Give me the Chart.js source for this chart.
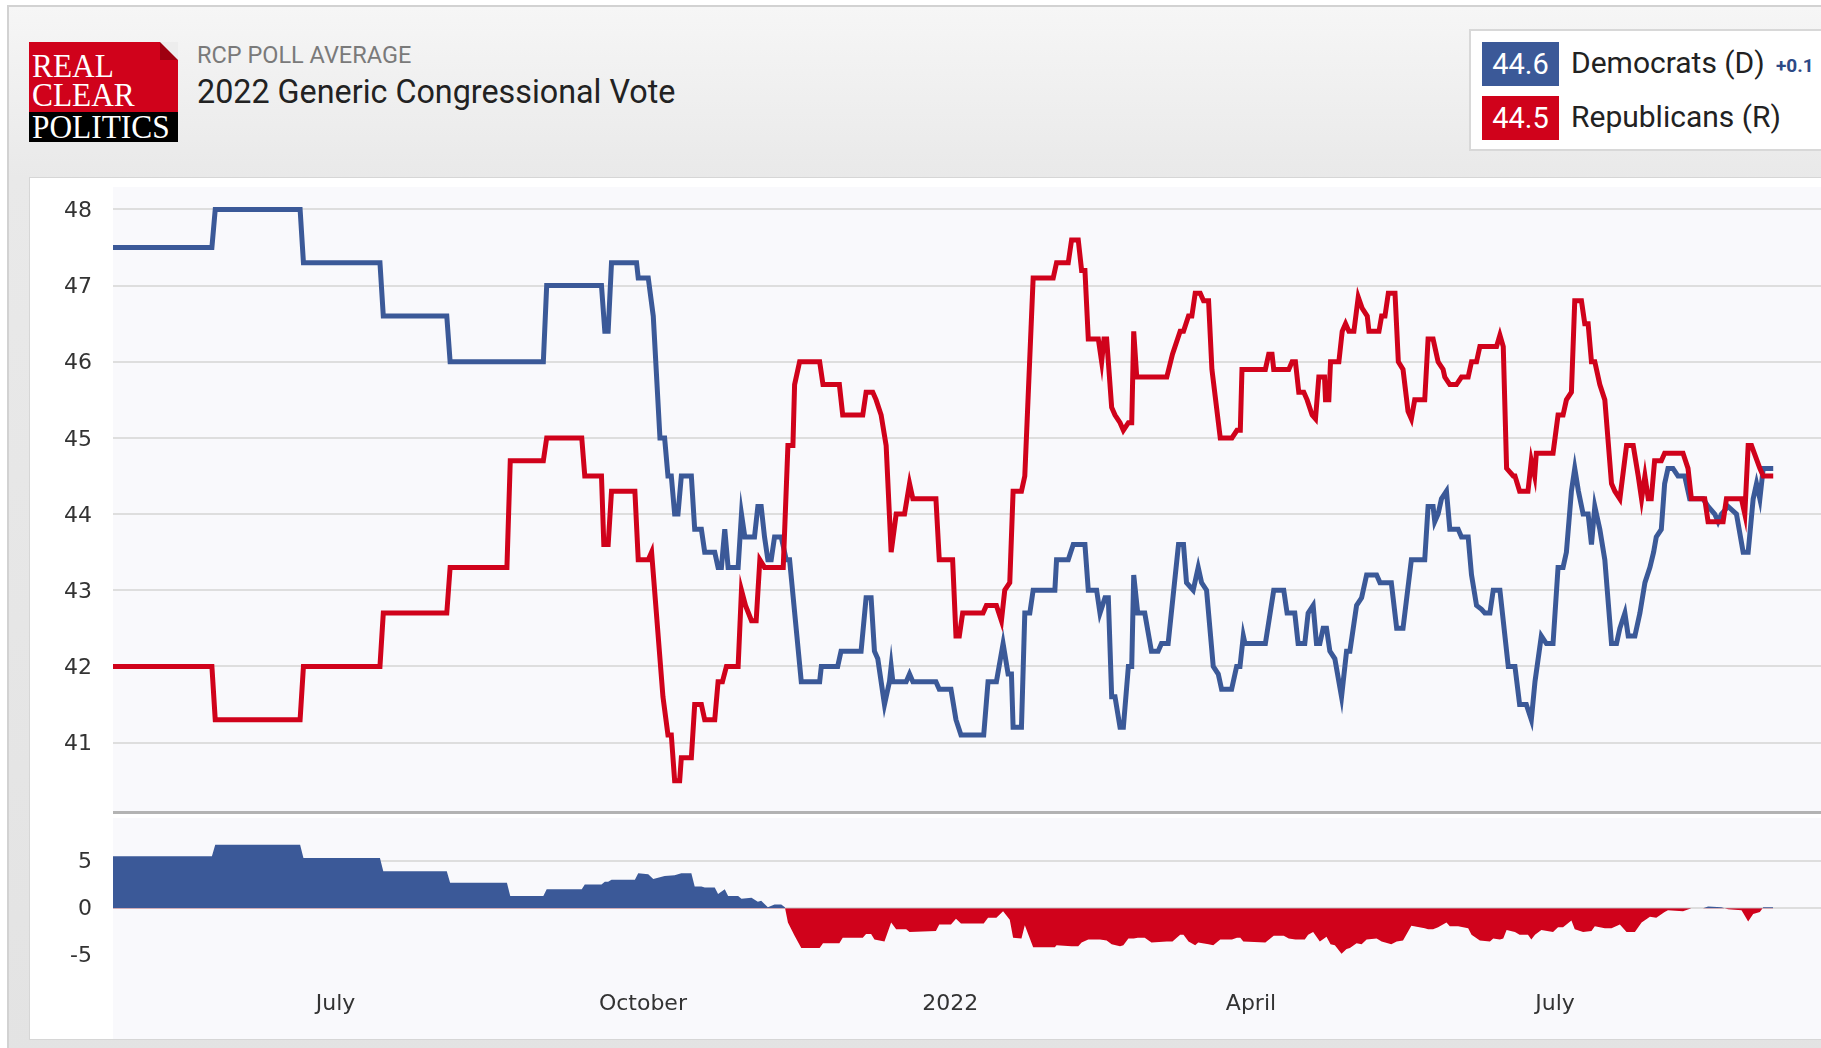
<!DOCTYPE html>
<html>
<head>
<meta charset="utf-8">
<script src="https://cdn.jsdelivr.net/npm/chart.js@4/dist/chart.umd.min.js"></script>
<style>
  html, body { margin: 0; padding: 0; width: 1821px; height: 1048px; overflow: hidden; background: #ffffff; }
  .frame { position: absolute; left: 7px; top: 5px; width: 1840px; height: 1060px; border: 2px solid #d2d2d2;
           background: linear-gradient(#f6f6f6 0px, #e9e9e9 170px, #e3e3e3 1060px); box-sizing: border-box; }
  .logo { position: absolute; left: 29px; top: 42px; width: 149px; height: 100px; overflow: hidden; }
  .logo .red { position: absolute; left: 0; top: 0; width: 149px; height: 70px; background: #d0021b; }
  .logo .black { position: absolute; left: 0; top: 70px; width: 149px; height: 30px; background: #000; }
  .logo .fold { position: absolute; right: 0; top: 0; width: 0; height: 0; border-style: solid;
                border-width: 0 18px 18px 0; border-color: transparent #ededed #9e0010 transparent; }
  .logo .t { position: absolute; left: 3px; color: #fff; font-family: "Liberation Serif", "DejaVu Serif", serif;
             font-size: 33px; line-height: 30px; white-space: nowrap; transform-origin: 0 50%; transform: scale(0.95, 1.05); }
  .sub { position: absolute; left: 197px; top: 41px; font-family: Roboto, sans-serif; font-size: 23.5px; color: #7a7a7a; white-space: nowrap; }
  .title { position: absolute; left: 197px; top: 73px; font-family: Roboto, sans-serif; font-size: 32.3px; color: #222; white-space: nowrap; }
  .legend { position: absolute; left: 1469px; top: 29px; width: 420px; height: 122px; background: #fff;
            border: 2px solid #d8d8d8; box-sizing: border-box; }
  .box { position: absolute; left: 11px; width: 77px; height: 44px; color: #fff; font-family: Roboto, sans-serif;
         font-size: 29px; line-height: 44px; text-align: center; }
  .lab { position: absolute; left: 100px; font-family: Roboto, sans-serif; font-size: 30px; color: #222; white-space: nowrap; }
  .chg { position: absolute; left: 305px; top: 23px; font-family: Roboto, sans-serif; font-size: 19px; font-weight: bold; color: #2d4a86; }
  .panel { position: absolute; left: 29px; top: 177px; width: 1820px; height: 863px; background: #fff;
           border: 1px solid #d6d6d6; box-sizing: border-box; }
  .divider { position: absolute; left: 113px; top: 811px; width: 1720px; height: 3px; background: #b3b3b3; }
  canvas { position: absolute; }
</style>
</head>
<body>
<div class="frame"></div>
<div class="logo">
  <div class="red"></div>
  <div class="black"></div>
  <div class="fold"></div>
  <div class="t" style="top:8px">REAL</div>
  <div class="t" style="top:37px">CLEAR</div>
  <div class="t" style="top:69px">POLITICS</div>
</div>
<div class="sub">RCP POLL AVERAGE</div>
<div class="title">2022 Generic Congressional Vote</div>
<div class="legend">
  <div class="box" id="demBox" style="top:11px;background:#3b5998"></div>
  <div class="lab" id="demLab" style="top:14px"></div>
  <div class="chg" id="demChg"></div>
  <div class="box" id="repBox" style="top:65px;background:#d0021b"></div>
  <div class="lab" id="repLab" style="top:68px"></div>
</div>
<div class="panel"></div>
<canvas id="mainChart" width="1792" height="626" style="left:29px;top:187px;"></canvas>
<div class="divider"></div>
<canvas id="spreadChart" width="1792" height="226" style="left:29px;top:813px;"></canvas>
<script>
// ---- Data (x = day number counted from 1 Jan 2021) ----
const seriesNames = ['Democrats (D)', 'Republicans (R)'];
const latestValues = [44.6, 44.5];
const latestChange = '+0.1';

const demDays = [114.4,144,145,170.4,171.4,194.3,195.3,214.3,215.3,243.2,244.2,260.6,261.6,262.6,263.6,271.1,271.6,274.6,276.1,278.1,279.5,280.5,281.5,282.5,283.5,284.5,287.5,288.5,290.5,291.5,294.5,295.5,296.5,297.5,298.5,301.5,302.5,303.5,306.4,307.4,308.4,309.4,310.4,311.4,312.4,314.4,315.9,316.9,320.4,325.9,326.4,331.3,332.3,338.3,339.8,341.3,342.3,343.3,345.3,346.8,347.3,347.8,351.8,352.8,353.8,360.7,361.7,365.2,366.7,368.2,375.0,376.3,378.8,380.8,382.3,383.3,383.8,386.3,387.3,388.8,389.8,396.3,396.8,400.3,401.8,405.3,406.3,408.8,409.8,411.3,412.3,413.3,414.3,415.8,416.8,418.3,419.3,419.9,421.1,423.2,425.2,427.2,428.2,430.2,433.3,434.8,435.7,437.7,439.2,440.2,441.7,443.7,445.2,446.2,449.2,450.7,451.7,452.7,453.2,459.3,461.8,464.8,465.8,468.1,469.1,471.1,472.1,473.6,474.6,475.6,476.6,477.6,478.6,480.1,482.1,483.6,484.6,486.6,488.1,489.6,492.6,493.6,497.0,498.6,500.5,503.0,507.0,508.0,509.5,510.0,511.0,512.0,513.5,514.5,517.0,518.0,520.0,521.0,522.5,524.0,525.0,526.5,527.5,529.5,532.0,534.0,535.4,537.4,538.9,540.0,541.9,543.4,545.4,546.9,548.4,549.4,550.9,551.9,553.0,554.4,555.9,556.9,557.9,559.4,560.9,562.9,564.4,565.4,566.9,567.9,569.9,571.4,572.9,574.4,575.5,576.3,577.8,578.8,579.8,581.3,582.8,584.8,586.3,590.3,591.8,593.8,594.8,595.8,597.8,600.3,602.3,603.8,605.3,606.3,607.3,608.3,611.3];
const demVals = [47.5,47.5,48.0,48.0,47.3,47.3,46.6,46.6,46.0,46.0,47.0,47.0,46.4,46.4,47.3,47.3,47.1,47.1,46.6,45.0,45.0,44.5,44.5,44.0,44.0,44.5,44.5,43.8,43.8,43.5,43.5,43.3,43.3,43.8,43.3,43.3,44.0,43.7,43.7,44.1,44.1,43.7,43.4,43.4,43.7,43.7,43.4,43.4,41.8,41.8,42.0,42.0,42.2,42.2,42.9,42.9,42.2,42.1,41.5,41.8,42.0,41.8,41.8,41.9,41.8,41.8,41.7,41.7,41.3,41.1,41.1,41.8,41.8,42.3,41.9,41.9,41.2,41.2,42.7,42.7,43.0,43.0,43.4,43.4,43.6,43.6,43.0,43.0,42.7,42.9,42.9,41.6,41.6,41.2,41.2,42.0,42.0,43.2,42.7,42.7,42.2,42.2,42.3,42.3,43.6,43.6,43.1,43.0,43.3,43.1,43.0,42.0,41.9,41.7,41.7,42.0,42.0,42.4,42.3,42.3,43.0,43.0,42.7,42.7,42.3,42.3,42.7,42.8,42.3,42.3,42.5,42.5,42.2,42.1,41.6,42.2,42.2,42.8,42.9,43.2,43.2,43.1,43.1,42.5,42.5,43.4,43.4,44.1,44.1,43.9,44.0,44.2,44.3,43.8,43.8,43.7,43.7,43.2,42.8,42.75,42.7,42.7,43.0,43.0,42.0,42.0,41.5,41.5,41.3,41.8,42.4,42.3,42.3,43.3,43.3,43.5,44.3,44.6,44.3,44.0,44.0,43.6,44.1,43.8,43.4,42.3,42.3,42.5,42.7,42.4,42.4,42.7,43.1,43.3,43.5,43.7,43.8,44.4,44.6,44.6,44.5,44.5,44.2,44.2,44.1,44.0,43.9,44.0,44.1,44.0,43.5,43.5,44.2,44.4,44.2,44.6,44.6];

const repDays = [114.4,144,145,170.4,171.4,194.3,195.3,214.3,215.3,232.3,233.3,243.2,244.2,254.7,255.6,260.6,261.3,262.6,263.6,270.6,271.6,274.6,275.6,279.0,280.5,281.5,282.5,284.0,284.5,287.5,288.5,290.5,291.5,294.5,295.5,296.8,298.0,301.5,302.5,303.7,305.5,306.9,308.0,309.4,315.0,316.4,317.9,318.4,319.9,325.9,326.9,331.8,332.8,338.8,339.8,341.8,342.8,344.3,345.8,347.3,348.8,351.3,352.8,353.8,360.7,361.7,365.7,366.7,367.7,368.7,374.8,375.8,378.8,380.3,381.3,382.8,383.8,386.3,387.3,389.8,395.8,396.8,400.3,401.3,403.3,404.3,405.3,406.3,409.3,410.3,411.0,411.8,413.3,414.3,415.8,416.8,418.3,419.3,419.9,420.8,429.8,431.5,433.8,434.8,436.3,437.3,438.3,439.8,440.8,442.3,443.3,445.8,449.3,450.8,451.8,452.3,459.3,460.3,461.3,461.8,466.3,467.3,468.3,469.3,470.8,471.8,473.3,474.3,475.3,477.0,477.3,478.3,478.8,481.3,482.3,483.3,484.3,485.8,487.1,488.3,489.8,490.3,493.3,494.1,495.1,496.1,498.1,499.1,500.5,502.0,503.0,504.0,507.0,508.0,509.5,511.0,512.5,513.0,514.5,516.5,518.0,520.0,521.0,522.5,523.5,528.5,529.5,530.5,531.5,533.5,534.0,535.4,537.9,538.9,539.9,540.4,545.4,546.9,548.4,549.4,550.9,551.9,553.9,554.9,555.9,556.9,557.9,559.4,560.9,562.9,563.9,565.4,567.4,569.4,570.9,571.9,572.9,573.9,574.8,575.8,577.8,578.8,584.3,585.8,586.8,590.8,591.8,596.3,597.3,601.8,602.8,603.8,604.8,607.3,608.3,611.3];
const repVals = [42.0,42.0,41.3,41.3,42.0,42.0,42.7,42.7,43.3,43.3,44.7,44.7,45.0,45.0,44.5,44.5,43.6,43.6,44.3,44.3,43.4,43.4,43.5,41.6,41.1,41.1,40.5,40.5,40.8,40.8,41.5,41.5,41.3,41.3,41.8,41.8,42.0,42.0,43.0,42.8,42.6,42.6,43.4,43.3,43.3,44.9,44.9,45.7,46.0,46.0,45.7,45.7,45.3,45.3,45.6,45.6,45.5,45.3,44.9,43.5,44.0,44.0,44.4,44.2,44.2,43.4,43.4,42.4,42.4,42.7,42.7,42.8,42.8,42.6,43.0,43.1,44.3,44.3,44.5,47.1,47.1,47.3,47.3,47.6,47.6,47.2,47.2,46.3,46.3,46.0,46.3,46.3,45.4,45.3,45.2,45.1,45.2,45.2,46.4,45.8,45.8,46.1,46.4,46.4,46.6,46.6,46.9,46.9,46.8,46.8,45.9,45.0,45.0,45.1,45.1,45.9,45.9,46.1,46.1,45.9,45.9,46.0,46.0,45.6,45.6,45.5,45.3,45.25,45.8,45.8,45.5,45.5,46.0,46.0,46.4,46.5,46.4,46.4,46.85,46.7,46.6,46.4,46.4,46.6,46.6,46.9,46.9,46.0,45.9,45.35,45.25,45.5,45.5,46.3,46.3,46.0,45.9,45.8,45.7,45.7,45.8,45.8,46.0,46.0,46.2,46.2,46.35,46.2,44.6,44.5,44.5,44.3,44.3,44.7,44.5,44.8,44.8,45.3,45.3,45.5,45.6,46.8,46.8,46.5,46.5,46.0,46.0,45.7,45.5,44.4,44.3,44.2,44.9,44.9,44.5,44.2,44.5,44.2,44.2,44.7,44.7,44.8,44.8,44.6,44.2,44.2,43.9,43.9,44.2,44.2,44.0,44.9,44.9,44.6,44.5,44.5];

const spreadDays = [114.4,144,145,170.4,171.4,194.3,195.3,214.3,215.3,232.3,233.3,243.2,244.2,254.7,255.6,260.6,261.6,262.6,263.6,270.6,271.6,274.6,276.1,279.5,282.5,284.5,287.5,288.5,290.5,291.5,294.5,295.5,297.5,298.5,301.5,302.5,305.5,307.4,308.4,310.4,312.4,314.4,315.5,316.4,318.4,320.4,325.9,326.9,331.8,332.8,338.8,339.8,341.3,342.3,345.3,347.3,348.8,351.8,352.8,360.7,361.7,365.2,366.7,368.2,375.0,376.3,378.8,380.8,382.8,383.8,386.3,387.3,389.8,396.3,396.8,401.3,403.3,404.3,406.3,409.8,411.8,413.3,415.8,416.8,418.3,419.9,421.1,423.2,425.2,429.8,431.5,433.8,434.8,436.3,438.3,439.2,442.3,443.7,445.8,449.3,450.8,451.8,452.7,459.3,461.8,464.8,466.3,468.3,469.3,471.1,472.1,473.6,474.6,475.6,477.6,478.8,480.1,482.1,483.6,484.6,486.6,488.1,489.6,492.6,494.1,497.0,498.6,500.5,503.0,507.0,508.0,509.5,511.0,513.5,514.5,517.0,520.0,521.0,523.5,526.5,527.5,529.5,530.5,531.5,534.0,535.4,537.9,538.9,540.0,541.9,545.4,546.9,548.4,550.9,551.9,554.4,556.9,557.9,560.9,562.9,565.4,567.4,569.9,571.9,574.4,576.3,578.8,579.8,584.3,586.8,590.3,591.8,595.8,597.8,601.8,602.3,603.8,605.3,607.3,608.3,611.3];
const spreadVals = [5.5,5.5,6.7,6.7,5.3,5.3,3.9,3.9,2.7,2.7,1.3,1.3,2.0,2.0,2.5,2.5,2.8,2.8,3.0,3.0,3.7,3.6,3.1,3.4,3.5,3.7,3.7,2.3,2.3,2.2,2.2,1.5,2.0,1.3,1.3,1.0,1.1,0.7,0.8,0.1,0.4,0.4,0.1,-1.5,-2.9,-4.2,-4.2,-3.7,-3.7,-3.1,-3.1,-2.7,-2.7,-3.3,-3.5,-1.5,-2.2,-2.2,-2.5,-2.4,-1.7,-1.7,-1.1,-1.6,-1.6,-1.0,-1.0,-0.3,-1.2,-3.1,-3.2,-1.8,-4.1,-4.1,-3.9,-4.0,-4.0,-3.6,-3.3,-3.3,-3.4,-3.8,-4.0,-3.9,-3.2,-3.2,-3.1,-3.1,-3.6,-3.5,-3.5,-2.8,-2.8,-3.5,-3.9,-3.6,-3.8,-3.9,-3.3,-3.3,-3.1,-3.1,-3.5,-3.6,-2.9,-2.9,-3.2,-3.3,-3.3,-3.3,-2.8,-2.5,-3.0,-3.5,-3.0,-3.8,-3.9,-4.8,-4.3,-4.2,-3.7,-3.8,-3.3,-3.2,-3.5,-3.8,-3.5,-3.4,-1.85,-2.1,-2.2,-2.2,-2.0,-1.5,-1.9,-1.9,-2.1,-2.8,-3.4,-3.5,-3.2,-3.3,-3.2,-2.3,-2.5,-2.8,-2.8,-3.3,-2.8,-2.3,-2.5,-2.0,-2.0,-1.3,-2.2,-2.5,-2.4,-1.9,-2.1,-2.1,-1.7,-2.5,-2.5,-1.5,-0.9,-1.0,-0.4,-0.2,-0.3,0.0,0.0,0.2,0.1,-0.1,-0.2,-0.5,-1.4,-0.6,-0.4,0.1,0.1];

const yTicksMain = [41, 42, 43, 44, 45, 46, 47, 48];
const yTicksSpread = [-5, 0, 5];
const xTickDays = [181, 273, 365, 455, 546];
const xTickLabels = ['July', 'October', '2022', 'April', 'July'];

// ---- Styling ----
const BLUE = '#3b5998';
const RED = '#d0021b';
const X_MIN = 114.4, X_MAX = 625.6;
const AXIS_FONT = { family: 'DejaVu Sans', size: 22 };

document.getElementById('demBox').textContent = latestValues[0].toFixed(1);
document.getElementById('repBox').textContent = latestValues[1].toFixed(1);
document.getElementById('demLab').textContent = seriesNames[0];
document.getElementById('repLab').textContent = seriesNames[1];
document.getElementById('demChg').textContent = latestChange;

const plotBg = {
  id: 'plotBg',
  beforeDraw(chart) {
    const a = chart.chartArea, c = chart.ctx;
    c.save(); c.fillStyle = '#f9f9fc'; c.fillRect(a.left, a.top, a.right - a.left, chart.height - a.top); c.restore();
  }
};
const pts = (xs, ys) => xs.map((x, i) => ({ x, y: ys[i] }));

new Chart(document.getElementById('mainChart'), {
  type: 'line',
  data: {
    datasets: [
      { label: seriesNames[1], data: pts(repDays, repVals), borderColor: RED, borderWidth: 5, pointRadius: 0, tension: 0, fill: false },
      { label: seriesNames[0], data: pts(demDays, demVals), borderColor: BLUE, borderWidth: 5, pointRadius: 0, tension: 0, fill: false }
    ]
  },
  options: {
    responsive: false, animation: false, events: [],
    layout: { padding: 0 },
    plugins: { legend: { display: false }, tooltip: { enabled: false } },
    scales: {
      x: { type: 'linear', min: X_MIN, max: X_MAX, display: false },
      y: {
        min: 40.075, max: 48.295,
        afterBuildTicks: s => { s.ticks = yTicksMain.map(v => ({ value: v })); },
        afterFit: s => { s.width = 84; s.paddingTop = 0; s.paddingBottom = 0; },
        grid: { color: '#dedede', lineWidth: 2, drawTicks: false },
        border: { display: false },
        ticks: { padding: 21, labelOffset: 2, color: '#333', font: AXIS_FONT }
      }
    }
  },
  plugins: [plotBg]
});

new Chart(document.getElementById('spreadChart'), {
  type: 'line',
  data: {
    datasets: [
      { label: 'Spread', data: pts(spreadDays, spreadVals), borderWidth: 0, borderColor: 'rgba(0,0,0,0)', pointRadius: 0, tension: 0,
        fill: { target: 'origin', above: BLUE, below: RED } }
    ]
  },
  options: {
    responsive: false, animation: false, events: [],
    layout: { padding: { top: 5 } },
    plugins: { legend: { display: false }, tooltip: { enabled: false } },
    scales: {
      x: {
        type: 'linear', min: X_MIN, max: X_MAX,
        afterBuildTicks: s => { s.ticks = xTickDays.map(v => ({ value: v })); },
        afterFit: s => { s.height = 64; s.paddingLeft = 0; s.paddingRight = 0; },
        grid: { display: false, drawTicks: false },
        border: { display: false },
        ticks: { autoSkip: false, maxRotation: 0, padding: 16, color: '#333', font: AXIS_FONT,
                 callback: v => xTickLabels[xTickDays.indexOf(v)] }
      },
      y: {
        min: -7.04, max: 9.53,
        afterBuildTicks: s => { s.ticks = yTicksSpread.map(v => ({ value: v })); },
        afterFit: s => { s.width = 84; s.paddingTop = 0; s.paddingBottom = 0; },
        grid: { color: ctx => (ctx.tick && ctx.tick.value === -5) ? 'rgba(0,0,0,0)' : '#dedede', lineWidth: 2, drawTicks: false },
        border: { display: false },
        ticks: { padding: 21, labelOffset: 1, color: '#333', font: AXIS_FONT }
      }
    }
  },
  plugins: [plotBg]
});
</script>
</body>
</html>
